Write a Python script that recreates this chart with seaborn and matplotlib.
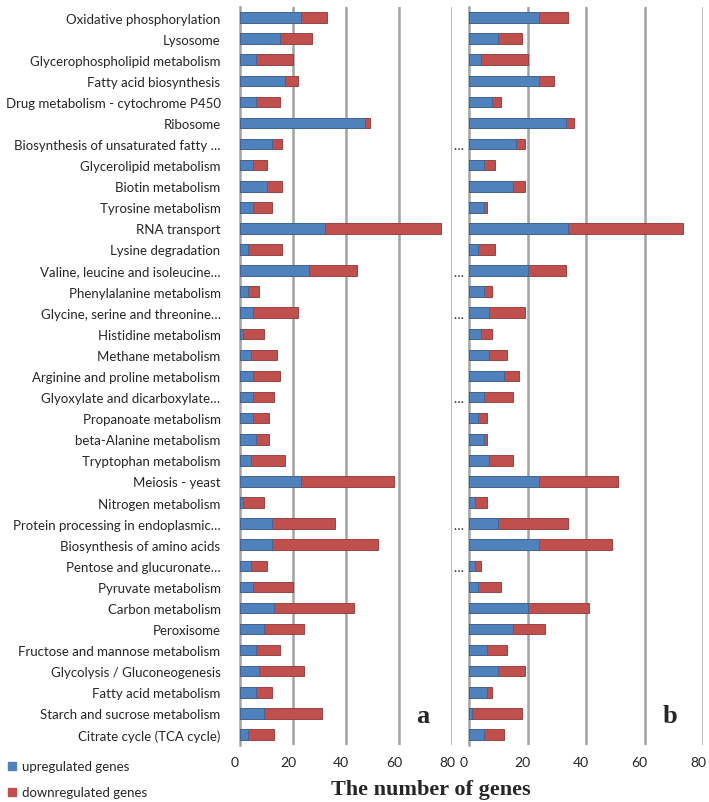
import numpy as np
import pandas as pd
import matplotlib
matplotlib.use("Agg")
import matplotlib.pyplot as plt
import matplotlib.transforms as mtransforms
import seaborn as sns

# pathway names (top to bottom), truncated the way the original shows them
pathways = [
    "Oxidative phosphorylation", "Lysosome", "Glycerophospholipid metabolism",
    "Fatty acid biosynthesis", "Drug metabolism - cytochrome P450", "Ribosome",
    "Biosynthesis of unsaturated fatty \u2026", "Glycerolipid metabolism",
    "Biotin metabolism", "Tyrosine metabolism", "RNA transport",
    "Lysine degradation", "Valine, leucine and isoleucine\u2026",
    "Phenylalanine metabolism", "Glycine, serine and threonine\u2026",
    "Histidine metabolism", "Methane metabolism",
    "Arginine and proline metabolism", "Glyoxylate and dicarboxylate\u2026",
    "Propanoate metabolism", "beta-Alanine metabolism", "Tryptophan metabolism",
    "Meiosis - yeast", "Nitrogen metabolism",
    "Protein processing in endoplasmic\u2026", "Biosynthesis of amino acids",
    "Pentose and glucuronate\u2026", "Pyruvate metabolism", "Carbon metabolism",
    "Peroxisome", "Fructose and mannose metabolism",
    "Glycolysis / Gluconeogenesis", "Fatty acid metabolism",
    "Starch and sucrose metabolism", "Citrate cycle (TCA cycle)",
]

# panel a
up_a = [23, 15, 6, 17, 6, 47, 12, 5, 10, 5, 32, 3, 26, 3, 5, 1, 4, 5, 5, 5, 6, 4,
        23, 1, 12, 12, 4, 5, 13, 9, 6, 7, 6, 9, 3]
down_a = [10, 12, 14, 5, 9, 2, 4, 5, 6, 7, 44, 13, 18, 4, 17, 8, 10, 10, 8, 6, 5, 13,
          35, 8, 24, 40, 6, 15, 30, 15, 9, 17, 6, 22, 10]

# panel b
up_b = [24, 10, 4, 24, 8, 33, 16, 5, 15, 5, 34, 3, 20, 5, 7, 4, 7, 12, 5, 3, 5, 7,
        24, 2, 10, 24, 2, 3, 20, 15, 6, 10, 6, 1, 5]
down_b = [10, 8, 16, 5, 3, 3, 3, 4, 4, 1, 39, 6, 13, 3, 12, 4, 6, 5, 10, 3, 1, 8,
          27, 4, 24, 25, 2, 8, 21, 11, 7, 9, 2, 17, 7]

x_ticks = [0, 20, 40, 60, 80]
blue = "#4F81BD"
red = "#C0504D"
grid_col = "#A3A3A3"

sns.set_style("white")
plt.rcParams["font.family"] = ["Lato", "DejaVu Sans"]

W, H = 709, 803
fig = plt.figure(figsize=(W / 100, H / 100), dpi=100)


def ax_at(x0, x1, y0, y1):
    return fig.add_axes([x0 / W, 1 - y1 / H, (x1 - x0) / W, (y1 - y0) / H])


ax_a = ax_at(240, 452, 8, 746)
ax_b = ax_at(469, 703, 8, 746)

# tick numbers sit a little left of the gridlines, like the 3D original
shift = mtransforms.ScaledTranslation(-5 / 100, 0, fig.dpi_scale_trans)

for ax, up, down, letter in [(ax_a, up_a, down_a, "a"), (ax_b, up_b, down_b, "b")]:
    df = pd.DataFrame({"pathway": pathways, "up": up,
                       "total": np.array(up) + np.array(down)})
    sns.barplot(data=df, x="total", y="pathway", color=red, saturation=1,
                width=0.5, edgecolor="#8E3432", linewidth=0.6, ax=ax, zorder=3)
    sns.barplot(data=df, x="up", y="pathway", color=blue, saturation=1,
                width=0.5, edgecolor="#3A6494", linewidth=0.6, ax=ax, zorder=4)
    ax.set_xlim(0, 80)
    ax.set_ylim(len(pathways) - 0.5, -0.5)
    ax.set_xticks(x_ticks)
    ax.set_xticklabels([str(t) for t in x_ticks], fontsize=10)
    ax.tick_params(axis="x", length=0, pad=8)
    for lbl in ax.get_xticklabels():
        lbl.set_transform(lbl.get_transform() + shift)
    for t in x_ticks[1:]:
        ax.axvline(t, color=grid_col, lw=1.8, zorder=1)
    for side in ["top", "right", "bottom"]:
        ax.spines[side].set_visible(False)
    ax.spines["left"].set_color(grid_col)
    ax.spines["left"].set_linewidth(1.8)
    ax.set_yticks(np.arange(-0.5, len(pathways), 1), minor=True)
    ax.tick_params(axis="y", which="minor", length=4, color=grid_col, width=1)
    ax.tick_params(axis="y", which="major", length=0, pad=14)
    ax.set_xlabel("")
    ax.set_ylabel("")
    ax.text(0.86, 0.04, letter, transform=ax.transAxes, fontsize=19,
            fontweight="bold", family="Liberation Serif", ha="center", va="center")

ax_a.set_yticks(range(len(pathways)))
ax_a.set_yticklabels(pathways, fontsize=9.5)

# panel b shows only the ellipsis of the long names
b_labels = ["\u2026" if p.endswith("\u2026") else "" for p in pathways]
ax_b.set_yticks(range(len(pathways)))
ax_b.set_yticklabels(b_labels, fontsize=9.5)
ax_b.tick_params(axis="y", which="major", pad=4)

fig.text(431 / W, 1 - 790 / H, "The number of genes", fontsize=16,
         fontweight="bold", family="Liberation Serif", ha="center", va="center")

# legend
for i, (lab, col) in enumerate([("upregulated genes", blue),
                                ("downregulated genes", red)]):
    y = 767 + i * 26
    fig.patches.append(plt.Rectangle((8 / W, 1 - (y + 4) / H), 8 / W, 8 / H,
                                     color=col, transform=fig.transFigure))
    fig.text(22 / W, 1 - y / H, lab, fontsize=9.5, ha="left", va="center")

fig.savefig("out.png", dpi=100)
